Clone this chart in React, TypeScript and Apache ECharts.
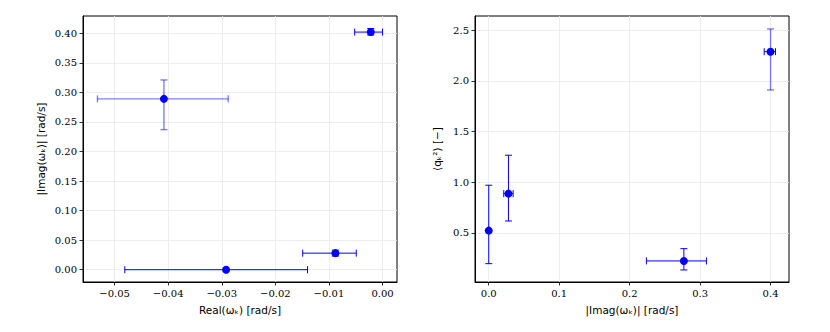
import React, { useEffect, useRef } from "react";
import * as echarts from "echarts";

// Left panel: Real(ω_k) vs |Imag(ω_k)|
const realVals = [-0.0022, -0.0408, -0.0088, -0.0292];
const imagVals = [0.402, 0.289, 0.028, 0.0];
const realLower = [-0.0052, -0.0532, -0.0149, -0.0481];
const realUpper = [0.0, -0.0288, -0.0049, -0.014];
const imagLower = [0.397, 0.237, 0.023, 0.0];
const imagUpper = [0.408, 0.321, 0.033, 0.0];
const leftAlphaX = [1, 0.5, 1, 1];
const leftAlphaY = [1, 0.5, 1, 1];

// Right panel: |Imag(ω_k)| vs <q_k^2>
const imagAbs = [0.0, 0.028, 0.277, 0.4];
const qVals = [0.523, 0.888, 0.224, 2.289];
const imagAbsLower = [0.0, 0.0213, 0.2238, 0.391];
const imagAbsUpper = [0.0, 0.0346, 0.309, 0.407];
const qLower = [0.197, 0.618, 0.135, 1.911];
const qUpper = [0.971, 1.267, 0.345, 2.513];
const rightAlphaX = [1, 1, 1, 1];
const rightAlphaY = [1, 1, 1, 0.5];

// Tick labels
const leftXTicks = [-0.05, -0.04, -0.03, -0.02, -0.01, 0.0];
const leftYTicks = [0.0, 0.05, 0.1, 0.15, 0.2, 0.25, 0.3, 0.35, 0.4];
const rightXTicks = [0.0, 0.1, 0.2, 0.3, 0.4];
const rightYTicks = [0.5, 1.0, 1.5, 2.0, 2.5];

const BLUE = "#0000ff";
const TICK_FONT = "'DejaVu Serif', serif";
const NAME_FONT = "'DejaVu Sans', sans-serif";

const fmt = (d: number) => (v: number) => {
  const s = Math.abs(v).toFixed(d);
  return v < -1e-12 ? "\u2212" + s : s;
};

function errRender(cap: number) {
  return (params: any, api: any) => {
    const x = api.value(0);
    const y = api.value(1);
    const xl = api.value(2);
    const xh = api.value(3);
    const yl = api.value(4);
    const yh = api.value(5);
    const ax = api.value(6);
    const ay = api.value(7);
    const children: any[] = [];
    const st = (o: number) => ({ stroke: BLUE, lineWidth: o < 1 ? 1.4 : 1, opacity: o, fill: "none" });
    if (xh > xl) {
      const p1 = api.coord([xl, y]);
      const p2 = api.coord([xh, y]);
      children.push({ type: "line", shape: { x1: p1[0], y1: p1[1], x2: p2[0], y2: p2[1] }, style: st(ax) });
      children.push({ type: "line", shape: { x1: p1[0], y1: p1[1] - cap, x2: p1[0], y2: p1[1] + cap }, style: st(ax) });
      children.push({ type: "line", shape: { x1: p2[0], y1: p2[1] - cap, x2: p2[0], y2: p2[1] + cap }, style: st(ax) });
    }
    if (yh > yl) {
      const p1 = api.coord([x, yl]);
      const p2 = api.coord([x, yh]);
      children.push({ type: "line", shape: { x1: p1[0], y1: p1[1], x2: p2[0], y2: p2[1] }, style: st(ay) });
      children.push({ type: "line", shape: { x1: p1[0] - cap, y1: p1[1], x2: p1[0] + cap, y2: p1[1] }, style: st(ay) });
      children.push({ type: "line", shape: { x1: p2[0] - cap, y1: p2[1], x2: p2[0] + cap, y2: p2[1] }, style: st(ay) });
    }
    return { type: "group", children };
  };
}

function axisCommon(ticks: number[], decimals: number) {
  return {
    axisLine: { show: true, onZero: false, lineStyle: { color: "#000", width: 1 } },
    axisTick: { show: true, inside: false, length: 3.5, customValues: ticks, lineStyle: { color: "#000", width: 0.8 } },
    axisLabel: {
      customValues: ticks,
      formatter: fmt(decimals),
      fontFamily: TICK_FONT,
      fontSize: 10,
      color: "#000",
      margin: 6,
      showMinLabel: true,
      showMaxLabel: true,
    },
    splitLine: { show: true, lineStyle: { color: "#e8e8e8", width: 0.8 } },
  };
}

export default function App() {
  const ref = useRef<HTMLDivElement>(null);
  useEffect(() => {
    if (!ref.current) return;
    const chart = echarts.init(ref.current, null, { renderer: "svg" });
    const leftErr = realVals.map((v, i) => [
      v, imagVals[i], realLower[i], realUpper[i], imagLower[i], imagUpper[i], leftAlphaX[i], leftAlphaY[i],
    ]);
    const rightErr = imagAbs.map((v, i) => [
      v, qVals[i], imagAbsLower[i], imagAbsUpper[i], qLower[i], qUpper[i], rightAlphaX[i], rightAlphaY[i],
    ]);
    const nameStyle = { fontFamily: NAME_FONT, fontSize: 10.5, color: "#000" };
    chart.setOption({
      animation: false,
      backgroundColor: "#fff",
      grid: [
        { left: 83, top: 16, width: 314, height: 266, show: true, borderColor: "#000", borderWidth: 1, backgroundColor: "transparent" },
        { left: 475, top: 16, width: 314, height: 266, show: true, borderColor: "#000", borderWidth: 1, backgroundColor: "transparent" },
      ],
      xAxis: [
        {
          gridIndex: 0, type: "value", min: -0.0559, max: 0.0027,
          name: "Real(\u03c9\u2096) [rad/s]", nameLocation: "middle", nameGap: 22, nameTextStyle: nameStyle,
          ...axisCommon(leftXTicks, 2),
        },
        {
          gridIndex: 1, type: "value", min: -0.0195, max: 0.4262,
          name: "|Imag(\u03c9\u2096)| [rad/s]", nameLocation: "middle", nameGap: 22, nameTextStyle: nameStyle,
          ...axisCommon(rightXTicks, 1),
        },
      ],
      yAxis: [
        {
          gridIndex: 0, type: "value", min: -0.0208, max: 0.4292,
          name: "|Imag(\u03c9\u2096)| [rad/s]", nameLocation: "middle", nameGap: 37, nameRotate: 90, nameTextStyle: nameStyle,
          ...axisCommon(leftYTicks, 2),
        },
        {
          gridIndex: 1, type: "value", min: 0.016, max: 2.641,
          name: "\u27e8q\u2096\u00b2\u27e9 [\u2212]", nameLocation: "middle", nameGap: 33, nameRotate: 90, nameTextStyle: nameStyle,
          ...axisCommon(rightYTicks, 1),
        },
      ],
      series: [
        {
          type: "custom", xAxisIndex: 0, yAxisIndex: 0, renderItem: errRender(3.5), data: leftErr,
          encode: { x: [0, 2, 3], y: [1, 4, 5] }, z: 2, silent: true,
        },
        {
          type: "scatter", xAxisIndex: 0, yAxisIndex: 0, symbolSize: 8, itemStyle: { color: BLUE, opacity: 1 },
          data: realVals.map((v, i) => [v, imagVals[i]]), z: 3,
        },
        {
          type: "custom", xAxisIndex: 1, yAxisIndex: 1, renderItem: errRender(3.5), data: rightErr,
          encode: { x: [0, 2, 3], y: [1, 4, 5] }, z: 2, silent: true,
        },
        {
          type: "scatter", xAxisIndex: 1, yAxisIndex: 1, symbolSize: 8, itemStyle: { color: BLUE, opacity: 1 },
          data: imagAbs.map((v, i) => [v, qVals[i]]), z: 3,
        },
      ],
    });
    return () => chart.dispose();
  }, []);
  return (
    <div
      ref={ref}
      style={{ position: "fixed", left: 0, top: 0, width: 830, height: 332, background: "#fff" }}
    />
  );
}
